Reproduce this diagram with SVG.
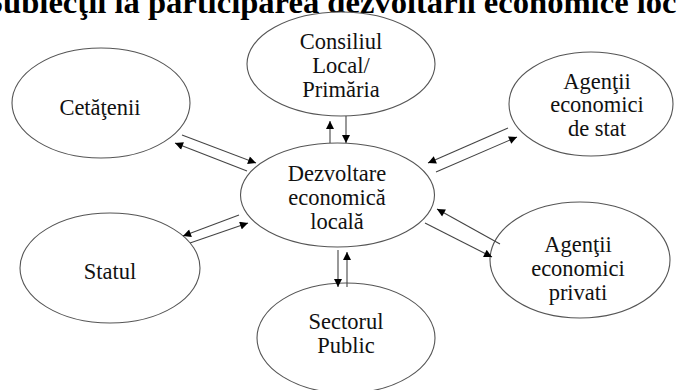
<svg xmlns="http://www.w3.org/2000/svg" width="677" height="390" viewBox="0 0 677 390">
<style>
.n{fill:#fff;stroke:#555;stroke-width:1.1}
.lbl{font-family:"Liberation Serif",Tinos,"Times New Roman",Times,serif;font-size:22.5px;font-weight:normal;fill:#111;text-anchor:middle}
.title{font-family:"Liberation Serif","Times New Roman",serif;font-size:32.6px;font-weight:bold;fill:#000}
.conn line{stroke:#444;stroke-width:1.1;marker-end:url(#ah)}
</style>
<defs>
<marker id="ah" viewBox="0 0 10 10" refX="10" refY="5" markerWidth="10" markerHeight="8" markerUnits="userSpaceOnUse" orient="auto">
<path d="M0,0L10,5L0,10z" fill="#000"/>
</marker>
</defs>
<rect width="677" height="390" fill="#fff"/>
<text class="title" x="-15" y="13">Subiecţii la participarea dezvoltării economice locale</text>
<g id="consiliul"><ellipse class="n" cx="341" cy="64" rx="94" ry="52"/><text class="lbl"><tspan x="341" y="49">Consiliul</tspan><tspan x="341" y="73">Local/</tspan><tspan x="341" y="97">Primăria</tspan></text></g>
<g id="cetatenii"><ellipse class="n" cx="101" cy="103" rx="89" ry="55"/><text class="lbl" x="100" y="115">Cetăţenii</text></g>
<g id="agenti-stat"><ellipse class="n" cx="591" cy="104" rx="82" ry="52"/><text class="lbl"><tspan x="597" y="89">Agenţii</tspan><tspan x="597" y="112">economici</tspan><tspan x="597" y="136">de stat</tspan></text></g>
<g id="dezvoltare"><ellipse class="n" cx="337.5" cy="195" rx="97" ry="52"/><text class="lbl"><tspan x="337" y="181">Dezvoltare</tspan><tspan x="337" y="205">economică</tspan><tspan x="337" y="229">locală</tspan></text></g>
<g id="statul"><ellipse class="n" cx="110" cy="268" rx="90" ry="55"/><text class="lbl" x="110" y="279">Statul</text></g>
<g id="agenti-privati"><ellipse class="n" cx="580" cy="260" rx="90" ry="58"/><text class="lbl"><tspan x="578" y="252">Agenţii</tspan><tspan x="578" y="276">economici</tspan><tspan x="578" y="300">privati</tspan></text></g>
<g id="sectorul"><ellipse class="n" cx="346" cy="338" rx="89" ry="55"/><text class="lbl"><tspan x="346" y="329">Sectorul</tspan><tspan x="346" y="353">Public</tspan></text></g>
<g id="connectors" class="conn">
<line x1="330" y1="143" x2="330" y2="121"/>
<line x1="346" y1="116" x2="346" y2="143"/>
<line x1="338" y1="250" x2="338" y2="287"/>
<line x1="347" y1="287" x2="347" y2="252"/>
<line x1="182" y1="135" x2="256" y2="163"/>
<line x1="247" y1="171" x2="175" y2="143"/>
<line x1="239" y1="215" x2="183" y2="236"/>
<line x1="190" y1="243" x2="248" y2="223"/>
<line x1="508" y1="128" x2="428" y2="163"/>
<line x1="436" y1="172" x2="517" y2="137"/>
<line x1="500" y1="244" x2="437" y2="209"/>
<line x1="425" y1="223" x2="492" y2="257"/>
</g>
</svg>
